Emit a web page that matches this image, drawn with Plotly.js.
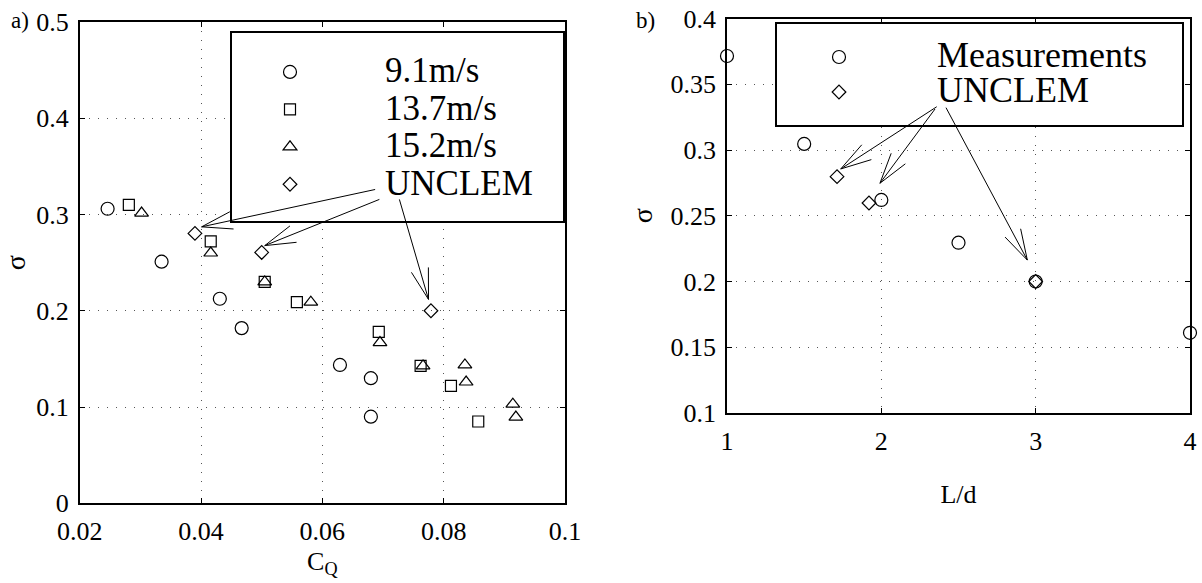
<!DOCTYPE html>
<html>
<head>
<meta charset="utf-8">
<script src="https://cdn.plot.ly/plotly-3.0.1.min.js"></script>
<style>
  html, body { margin: 0; padding: 0; background: #fff; }
  #fig { width: 1202px; height: 583px; }
</style>
</head>
<body>
<div id="fig"></div>
<script>
// ---- Panel a): sigma against flow coefficient C_Q ----
const cq91  = [0.0246, 0.0335, 0.0431, 0.0467, 0.0629, 0.0680, 0.0680];
const sig91 = [0.306, 0.251, 0.2125, 0.182, 0.1437, 0.130, 0.090];

const cq137  = [0.0281, 0.0416, 0.0505, 0.0558, 0.0693, 0.0762, 0.0812, 0.0857];
const sig137 = [0.310, 0.272, 0.230, 0.209, 0.178, 0.1427, 0.122, 0.085];

const cq152  = [0.0302, 0.0416, 0.0505, 0.0581, 0.0695, 0.0766, 0.0835, 0.0837, 0.0914, 0.0919];
const sig152 = [0.3015, 0.260, 0.230, 0.209, 0.167, 0.1427, 0.1437, 0.126, 0.103, 0.0896];

const cqUnclem  = [0.039, 0.050, 0.0779];
const sigUnclem = [0.2804, 0.2606, 0.200];

const seriesNamesA = ['9.1m/s', '13.7m/s', '15.2m/s', 'UNCLEM'];

// ---- Panel b): sigma against spacing L/d ----
const ldMeas  = [1, 1.5, 2, 2.5, 3, 4];
const sigMeas = [0.3715, 0.3046, 0.262, 0.2295, 0.200, 0.161];

const ldUnclem   = [1.713, 1.92, 3];
const sigUnclemB = [0.2797, 0.2597, 0.200];

const seriesNamesB = ['Measurements', 'UNCLEM'];

// Callout arrows from the "UNCLEM" legend text to the model points
const arrowTailA = [[0.0687, 0.326], [0.0694, 0.3157], [0.0727, 0.3157]];
const arrowTipA  = [[0.0401, 0.2872], [0.0505, 0.2677], [0.0775, 0.2118]];
const arrowTailB = [[2.359, 0.3329], [2.348, 0.3312], [2.419, 0.3322]];
const arrowTipB  = [[1.737, 0.2856], [1.991, 0.2747], [2.946, 0.2163]];

// ---- page geometry (pixels) ----
const W = 1202, H = 583;
const boxA = {x0: 79.7, x1: 565, y0: 22, y1: 503.3};
const boxB = {x0: 727, x1: 1190, y0: 18.5, y1: 413};
const rangeAx = [0.02, 0.1], rangeAy = [0, 0.5];
const rangeBx = [1, 4],     rangeBy = [0.1, 0.4];

const SERIF = 'Liberation Serif, Times New Roman, serif';

function xDomain(b) { return [b.x0 / W, b.x1 / W]; }
function yDomain(b) { return [1 - b.y1 / H, 1 - b.y0 / H]; }

function axisStyle(extra) {
  return Object.assign({
    showline: true, linecolor: '#000', linewidth: 1.8, mirror: 'ticks',
    ticks: 'inside', ticklen: 5, tickwidth: 1, tickcolor: '#000',
    showgrid: true, gridcolor: '#555', gridwidth: 1, griddash: '1px,8px',
    zeroline: false, fixedrange: true,
    tickfont: {family: SERIF, size: 26, color: '#000'},
    ticklabelstandoff: 4
  }, extra);
}

function marker(symbol, size) {
  return {symbol: symbol, size: size, color: '#000', line: {color: '#000', width: 1.2}};
}

function legendName(s, px) {
  return '<span style="font-size:' + px + 'px">' + s + '</span>';
}

const traces = [
  {x: cq91, y: sig91, name: legendName(seriesNamesA[0], 35), marker: marker('circle-open', 13)},
  {x: cq137, y: sig137, name: legendName(seriesNamesA[1], 35), marker: marker('square-open', 11)},
  {x: cq152, y: sig152, name: legendName(seriesNamesA[2], 35), marker: marker('triangle-up-open', 12)},
  {x: cqUnclem, y: sigUnclem, name: legendName(seriesNamesA[3], 35), marker: marker('diamond-open', 10.5)},
].map(t => Object.assign(t, {type: 'scatter', mode: 'markers', xaxis: 'x', yaxis: 'y',
                              legend: 'legend', cliponaxis: false, hoverinfo: 'skip'}));

traces.push(
  {x: ldMeas, y: sigMeas, name: legendName(seriesNamesB[0], 36), marker: marker('circle-open', 13)},
  {x: ldUnclem, y: sigUnclemB, name: legendName(seriesNamesB[1], 36), marker: marker('diamond-open', 10.5)}
);
for (let i = 4; i < 6; i++) {
  Object.assign(traces[i], {type: 'scatter', mode: 'markers', xaxis: 'x2', yaxis: 'y2',
                            legend: 'legend2', cliponaxis: false, hoverinfo: 'skip'});
}

// data <-> pixel conversion, used to orient the arrow barbs in screen space
function toPx(pt, box, rx, ry) {
  return [box.x0 + (pt[0] - rx[0]) / (rx[1] - rx[0]) * (box.x1 - box.x0),
          box.y1 - (pt[1] - ry[0]) / (ry[1] - ry[0]) * (box.y1 - box.y0)];
}
function fromPx(p, box, rx, ry) {
  return [rx[0] + (p[0] - box.x0) / (box.x1 - box.x0) * (rx[1] - rx[0]),
          ry[0] + (box.y1 - p[1]) / (box.y1 - box.y0) * (ry[1] - ry[0])];
}

const BARB_LEN = 32, BARB_ANG = 16 * Math.PI / 180;

// each arrow = shaft + two open barbs, drawn as line shapes
function arrowShapes(tails, tips, xref, yref, box, rx, ry) {
  const out = [];
  const line = {color: '#000', width: 1};
  tails.forEach((tail, i) => {
    const tip = tips[i];
    out.push({type: 'line', xref: xref, yref: yref, x0: tail[0], y0: tail[1], x1: tip[0], y1: tip[1],
              line: line, layer: 'above'});
    const p0 = toPx(tip, box, rx, ry), p1 = toPx(tail, box, rx, ry);
    const d = Math.hypot(p1[0] - p0[0], p1[1] - p0[1]);
    const ux = (p1[0] - p0[0]) / d, uy = (p1[1] - p0[1]) / d;
    [BARB_ANG, -BARB_ANG].forEach(a => {
      const end = fromPx([p0[0] + (ux * Math.cos(a) - uy * Math.sin(a)) * BARB_LEN,
                          p0[1] + (ux * Math.sin(a) + uy * Math.cos(a)) * BARB_LEN], box, rx, ry);
      out.push({type: 'line', xref: xref, yref: yref, x0: tip[0], y0: tip[1], x1: end[0], y1: end[1],
                line: line, layer: 'above'});
    });
  });
  return out;
}

const annotations = [
  {xref: 'paper', yref: 'paper', x: 20 / W, y: 1 - 20 / H, text: 'a)', showarrow: false,
   xanchor: 'center', yanchor: 'middle', font: {family: SERIF, size: 23, color: '#000'}},
  {xref: 'paper', yref: 'paper', x: 645 / W, y: 1 - 20 / H, text: 'b)', showarrow: false,
   xanchor: 'center', yanchor: 'middle', font: {family: SERIF, size: 23, color: '#000'}}
];

// white legend frames that hide the grid behind the keys, then the callout arrows on top
const shapes = [
  {type: 'rect', xref: 'paper', yref: 'paper', x0: 231 / W, x1: 564 / W, y0: 1 - 222 / H, y1: 1 - 32 / H,
   line: {color: '#000', width: 2}, fillcolor: '#fff', layer: 'above'},
  {type: 'rect', xref: 'paper', yref: 'paper', x0: 776 / W, x1: 1183 / W, y0: 1 - 126 / H, y1: 1 - 23 / H,
   line: {color: '#000', width: 2}, fillcolor: '#fff', layer: 'above'}
].concat(
  arrowShapes(arrowTailA, arrowTipA, 'x', 'y', boxA, rangeAx, rangeAy),
  arrowShapes(arrowTailB, arrowTipB, 'x2', 'y2', boxB, rangeBx, rangeBy)
);

const layout = {
  width: W, height: H,
  margin: {l: 0, r: 0, t: 0, b: 0},
  paper_bgcolor: '#fff', plot_bgcolor: '#fff',
  font: {family: SERIF, color: '#000'},
  xaxis: axisStyle({domain: xDomain(boxA), range: rangeAx, dtick: 0.02, tick0: 0.02, anchor: 'y',
    title: {text: 'C<sub>Q</sub>', font: {family: SERIF, size: 26, color: '#000'}, standoff: 6}}),
  yaxis: axisStyle({domain: yDomain(boxA), range: rangeAy, dtick: 0.1, anchor: 'x',
    title: {text: 'σ', font: {family: SERIF, size: 28, color: '#000'}, standoff: 10}}),
  xaxis2: axisStyle({domain: xDomain(boxB), range: rangeBx, dtick: 1, anchor: 'y2',
    title: {text: 'L/d', font: {family: SERIF, size: 26, color: '#000'}, standoff: 30}}),
  yaxis2: axisStyle({domain: yDomain(boxB), range: rangeBy, dtick: 0.05, anchor: 'x2',
    title: {text: 'σ', font: {family: SERIF, size: 28, color: '#000'}, standoff: 10}}),
  showlegend: true,
  legend: {x: 195 / W, y: 1 - 48.2 / H, xanchor: 'left', yanchor: 'top',
           bgcolor: 'rgba(0,0,0,0)', borderwidth: 0, itemwidth: 180, tracegroupgap: 0,
           font: {family: SERIF, size: 26.5, color: '#000'}},
  legend2: {x: 741 / W, y: 1 - 34.5 / H, xanchor: 'left', yanchor: 'top',
            bgcolor: 'rgba(0,0,0,0)', borderwidth: 0, itemwidth: 186, tracegroupgap: 0,
            font: {family: SERIF, size: 24.6, color: '#000'}},
  annotations: annotations,
  shapes: shapes
};

Plotly.newPlot('fig', traces, layout, {staticPlot: true, displayModeBar: false});
</script>
</body>
</html>
